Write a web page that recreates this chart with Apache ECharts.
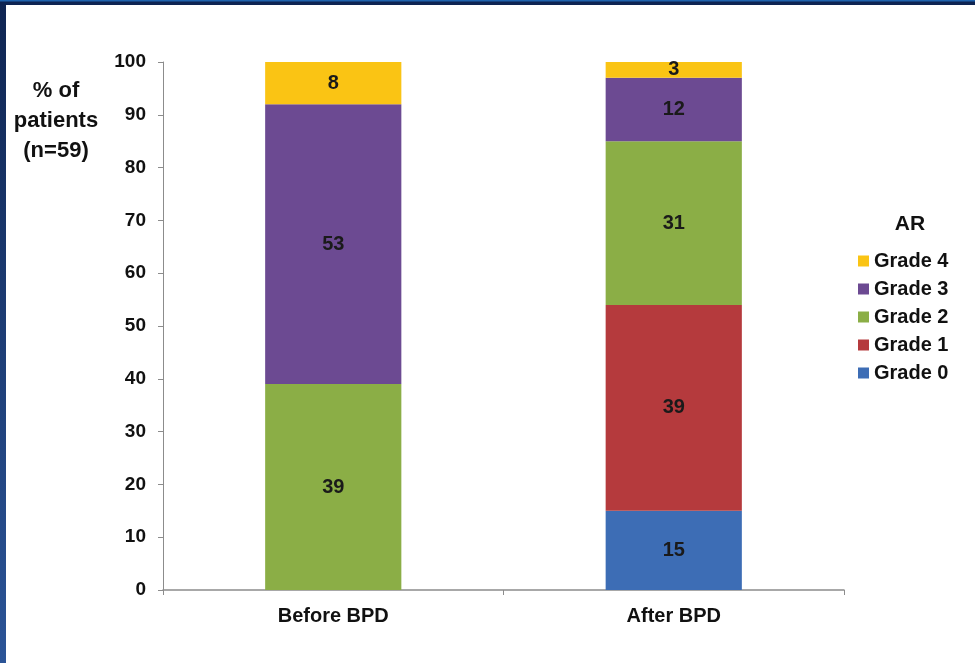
<!DOCTYPE html>
<html><head><meta charset="utf-8">
<script src="https://cdn.jsdelivr.net/npm/echarts@6/dist/echarts.min.js"></script>
<style>html,body{margin:0;padding:0;background:#fff}#c{width:975px;height:663px}</style>
</head><body><div id="c"></div>
<script>
var categories = ['Before BPD', 'After BPD'];
var grade0 = [0, 15];
var grade1 = [0, 39];
var grade2 = [39, 31];
var grade3 = [53, 12];
var grade4 = [8, 3];
var seriesNames = ['Grade 0', 'Grade 1', 'Grade 2', 'Grade 3', 'Grade 4'];
var seriesData = [grade0, grade1, grade2, grade3, grade4];
var colors = ['#3d6db5', '#b53a3d', '#8bae46', '#6c4a92', '#fac414'];
var yTicks = {min: 0, max: 100, interval: 10};

var font = 'Liberation Sans, Arial, sans-serif';
var chart = echarts.init(document.getElementById('c'));
var series = seriesNames.map(function (n, i) {
  return {
    name: n, type: 'bar', stack: 'a', barWidth: '40%',
    data: seriesData[i],
    itemStyle: {color: colors[i]},
    label: {
      show: true, position: 'inside', fontFamily: font, fontWeight: 'bold',
      fontSize: 20, color: '#1a1a1a',
      formatter: function (p) { return p.value ? p.value : ''; }
    }
  };
});
chart.setOption({
  animation: false,
  backgroundColor: '#fff',
  grid: {left: 163, right: 131, top: 62, bottom: 73},
  title: {text: 'AR', left: 905, top: 209, textAlign: 'center',
    textStyle: {fontFamily: font, fontWeight: 'bold', fontSize: 21, color: '#111'}},
  legend: {
    orient: 'vertical', left: 858, top: 251, itemWidth: 11, itemHeight: 11, itemGap: 8,
    padding: 0,
    data: ['Grade 4', 'Grade 3', 'Grade 2', 'Grade 1', 'Grade 0'],
    textStyle: {fontFamily: font, fontWeight: 'bold', fontSize: 20, color: '#111', lineHeight: 20},
    icon: 'rect'
  },
  xAxis: {
    type: 'category', data: categories,
    axisLine: {lineStyle: {color: '#8c8c8c', width: 1.5}},
    axisTick: {show: true, length: 5, lineStyle: {color: '#8c8c8c'}},
    axisLabel: {fontFamily: font, fontWeight: 'bold', fontSize: 20, color: '#111', margin: 16}
  },
  yAxis: {
    type: 'value', min: yTicks.min, max: yTicks.max, interval: yTicks.interval,
    splitLine: {show: false},
    axisLine: {show: true, lineStyle: {color: '#8c8c8c'}},
    axisTick: {show: true, length: 5, lineStyle: {color: '#8c8c8c'}},
    axisLabel: {fontFamily: font, fontWeight: 'bold', fontSize: 19, color: '#111', margin: 17}
  },
  graphic: [
    {type: 'rect', left: 0, top: 0, shape: {width: 6, height: 663},
      style: {fill: new echarts.graphic.LinearGradient(0, 0, 0, 1, [{offset: 0, color: '#0f2552'}, {offset: 1, color: '#2b5497'}])}},
    {type: 'rect', left: 0, top: 0, shape: {width: 975, height: 5}, style: {fill: '#0e2452'}},
    {type: 'rect', left: 0, top: 0, shape: {width: 975, height: 1.5}, style: {fill: '#1f63ad'}},
    {type: 'text', x: 56, y: 76, style: {
      text: '% of\npatients\n(n=59)', fontFamily: font, fontWeight: 'bold', fontSize: 22,
      lineHeight: 30, fill: '#111', align: 'center', verticalAlign: 'top'}}
  ],
  series: series
});
</script></body></html>
